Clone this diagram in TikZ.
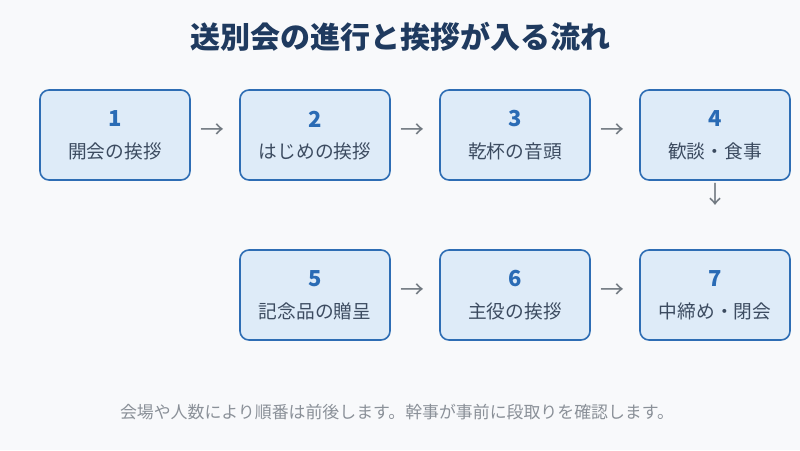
\documentclass[tikz,border=0pt]{standalone}
\usepackage{fontspec}
\usetikzlibrary{calc}
\setmainfont{Noto Sans CJK JP}
\definecolor{bgc}{HTML}{F8F9FB}
\definecolor{boxfill}{HTML}{DEEBF8}
\definecolor{boxdraw}{HTML}{2E6DB4}
\definecolor{numc}{HTML}{2A6BB5}
\definecolor{labc}{HTML}{3C4B60}
\definecolor{titlec}{HTML}{1F3A5F}
\definecolor{arrc}{HTML}{707880}
\definecolor{footc}{HTML}{8A9098}
\tikzset{
  stepbox/.style={draw=boxdraw, line width=1.6pt, fill=boxfill, rounded corners=9pt, minimum width=150pt, minimum height=90pt, inner sep=0pt},
  numtxt/.style={text=numc, font=\fontsize{22}{24}\selectfont\bfseries},
  labtxt/.style={text=labc, font=\fontsize{18.7}{20}\selectfont},
  arrtxt/.style={text=arrc, font=\fontsize{24}{24}\selectfont},
}
\begin{document}
\begin{tikzpicture}[x=1pt,y=-1pt]
\fill[bgc] (0,0) rectangle (800,450);
\useasboundingbox (0,0) rectangle (800,450);
\node[text=titlec, font=\fontsize{30}{34}\selectfont\bfseries] (title) at (400,37) {送別会の進行と挨拶が入る流れ};
\foreach \n/\x/\y/\t in {1/115/135/開会の挨拶, 2/315/135/はじめの挨拶, 3/515/135/乾杯の音頭, 4/715/135/歓談・食事, 5/315/295/記念品の贈呈, 6/515/295/主役の挨拶, 7/715/295/中締め・閉会}{
  \node[stepbox] (b\n) at (\x,\y) {};
  \node[numtxt] (n\n) at (\x,\y-16) {\n};
  \node[labtxt] (l\n) at (\x,\y+16) {\t};
}
\node[arrtxt] (a12) at ($(b1.east)!0.5!(b2.west)+(-3,-4)$) {→};
\node[arrtxt] (a23) at ($(b2.east)!0.5!(b3.west)+(-3,-4)$) {→};
\node[arrtxt] (a34) at ($(b3.east)!0.5!(b4.west)+(-3,-4)$) {→};
\node[arrtxt] (a56) at ($(b5.east)!0.5!(b6.west)+(-3,-4)$) {→};
\node[arrtxt] (a67) at ($(b6.east)!0.5!(b7.west)+(-3,-4)$) {→};
\node[arrtxt] (a47) at (715,194) {↓};
\node[text=footc, font=\fontsize{16.9}{18}\selectfont] (foot) at (397,412) {会場や人数により順番は前後します。幹事が事前に段取りを確認します。};
\end{tikzpicture}
\end{document}
